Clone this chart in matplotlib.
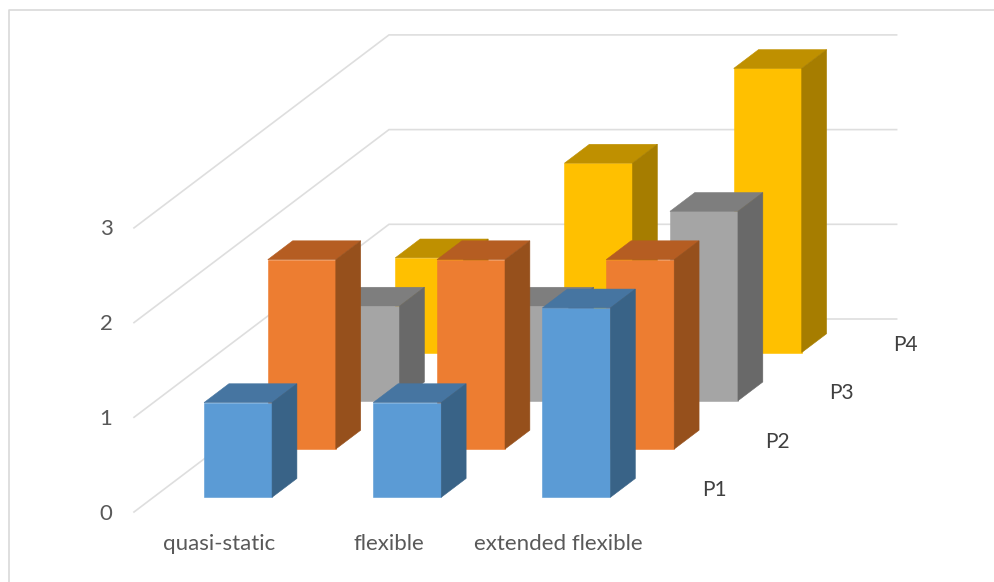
import matplotlib
matplotlib.use("Agg")
import matplotlib.pyplot as plt
from matplotlib.patches import Polygon
from matplotlib.lines import Line2D

plt.rcParams["font.family"] = ["Lato", "DejaVu Sans"]

categories = ["quasi-static", "flexible", "extended flexible"]
series_names = ["P1", "P2", "P3", "P4"]
p1_values = [1, 1, 2]
p2_values = [2, 2, 2]
p3_values = [1, 1, 2]
p4_values = [1, 2, 3]
value_ticks = [0, 1, 2, 3]

series_values = [p1_values, p2_values, p3_values, p4_values]
# front, top and side shades of each series
face_colors = [
    ("#5B9BD5", "#4675A1", "#396387"),
    ("#ED7D31", "#B55D22", "#96501C"),
    ("#A5A5A5", "#7E7E7E", "#696969"),
    ("#FFC000", "#BF9000", "#A67D00"),
]

# Oblique projection of (category, depth, value) onto the canvas, in pixels
ORIGIN = (134.0, 512.0)
CAT_STEP = 169.2
DEPTH_STEP = (63.75, -48.25)
VALUE_STEP = -94.7
BAR_WIDTH = 0.402
BAR_DEPTH = 0.39
FONT_SIZE = 16
SERIES_FONT_SIZE = 15


def project(cat, depth, value):
    x = ORIGIN[0] + cat * CAT_STEP + depth * DEPTH_STEP[0]
    y = ORIGIN[1] + depth * DEPTH_STEP[1] + value * VALUE_STEP
    return (x, y)


fig = plt.figure(figsize=(9.95, 5.82), dpi=100)
ax = fig.add_axes([0, 0, 1, 1])
ax.set_xlim(0, 995)
ax.set_ylim(582, 0)
ax.axis("off")

# Chart frame: only the top and left edges fall inside the canvas
ax.add_line(Line2D([8.5, 8.5, 995], [582, 9.5, 9.5], color="#D9D9D9", lw=1.2, zorder=0))

# Gridlines run along the side wall and then across the back wall
n_cats = len(categories)
n_depth = len(series_names)
for v in value_ticks:
    pts = [project(0, 0, v), project(0, n_depth, v), project(n_cats, n_depth, v)]
    ax.add_line(Line2D([p[0] for p in pts], [p[1] for p in pts],
                       color="#DEDEDE", lw=1.2, solid_joinstyle="miter", zorder=0.5))
    ax.text(106, project(0, 0, v)[1] + 1.5, str(v), ha="center", va="center",
            fontsize=FONT_SIZE, color="#595959")


def draw_bar(cat, depth, value, colors):
    front, top, side = colors
    x0, x1 = cat + 0.5 - BAR_WIDTH / 2, cat + 0.5 + BAR_WIDTH / 2
    d0, d1 = depth + 0.5 - BAR_DEPTH / 2, depth + 0.5 + BAR_DEPTH / 2
    faces = [
        ([(x0, d0, 0), (x1, d0, 0), (x1, d0, value), (x0, d0, value)], front),
        ([(x0, d0, value), (x1, d0, value), (x1, d1, value), (x0, d1, value)], top),
        ([(x1, d0, 0), (x1, d1, 0), (x1, d1, value), (x1, d0, value)], side),
    ]
    for corners, color in faces:
        ax.add_patch(Polygon([project(*c) for c in corners], closed=True,
                             facecolor=color, edgecolor=color, lw=0.4, zorder=1))


# Paint from the back row forward so nearer bars cover farther ones
for depth in reversed(range(n_depth)):
    for cat in range(n_cats):
        draw_bar(cat, depth, series_values[depth][cat], face_colors[depth])

for i, name in enumerate(categories):
    ax.text(project(i + 0.5, 0, 0)[0] + 1, 543.5, name, ha="center", va="center",
            fontsize=FONT_SIZE, color="#595959")

for depth, name in enumerate(series_names):
    x, y = project(n_cats, depth + 0.5, 0)
    ax.text(x + 40.5, y + 2, name, ha="center", va="center",
            fontsize=SERIES_FONT_SIZE, color="#404040")

fig.savefig("out.png", dpi=100, facecolor="white")
